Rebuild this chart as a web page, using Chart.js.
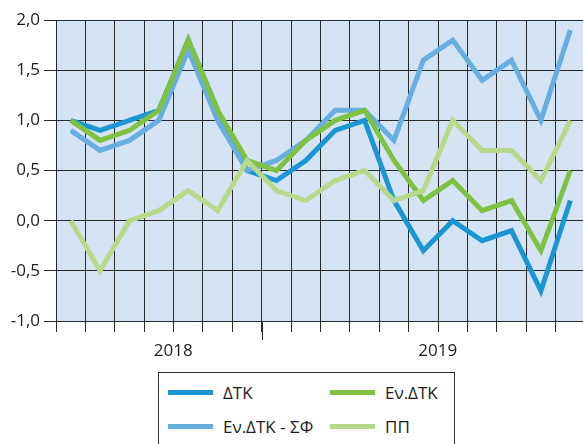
<!DOCTYPE html>
<html>
<head>
<meta charset="utf-8">
<script src="https://cdn.jsdelivr.net/npm/chart.js@4.4.1/dist/chart.umd.min.js"></script>
<style>
  html, body { margin: 0; padding: 0; background: #fff; overflow: hidden; }
  #wrap { position: relative; width: 583px; height: 444px; overflow: hidden; }
  #chart { position: absolute; left: 0; top: 0; }
  #legend {
    position: absolute; left: 158px; top: 372px; width: 297px; height: 90px;
    border: 1px solid #333; box-sizing: border-box; background: #fff;
    font-family: "Open Sans", sans-serif; font-size: 17px; color: #1e1e1e;
  }
  .item { position: absolute; height: 20px; display: flex; align-items: center; white-space: nowrap; }
  .swatch { width: 45px; height: 5px; margin-right: 10px; }
</style>
</head>
<body>
<div id="wrap">
  <canvas id="chart" width="585" height="444"></canvas>
  <div id="legend"></div>
</div>
<script>
// months Jun 2018 - Nov 2019
const months = [
  "2018-06", "2018-07", "2018-08", "2018-09", "2018-10", "2018-11", "2018-12",
  "2019-01", "2019-02", "2019-03", "2019-04", "2019-05", "2019-06", "2019-07",
  "2019-08", "2019-09", "2019-10", "2019-11",
];
const yearTicks = ["", "", "", "", "2018", "", "", "", "", "", "", "", "", "2019", "", "", "", ""];

const dtk = [1.0, 0.9, 1.0, 1.1, 1.8, 1.1, 0.5, 0.4, 0.6, 0.9, 1.0, 0.2, -0.3, 0.0, -0.2, -0.1, -0.7, 0.2];
const enDtk = [1.0, 0.8, 0.9, 1.1, 1.8, 1.1, 0.6, 0.5, 0.8, 1.0, 1.1, 0.6, 0.2, 0.4, 0.1, 0.2, -0.3, 0.5];
const enDtkSf = [0.9, 0.7, 0.8, 1.0, 1.7, 1.0, 0.5, 0.6, 0.8, 1.1, 1.1, 0.8, 1.6, 1.8, 1.4, 1.6, 1.0, 1.9];
const pp = [0.0, -0.5, 0.0, 0.1, 0.3, 0.1, 0.6, 0.3, 0.2, 0.4, 0.5, 0.2, 0.3, 1.0, 0.7, 0.7, 0.4, 1.0];

const gridColor = "#2a2a2a";
const font = { family: "'Open Sans', sans-serif", size: 17 };

// fill plot area + longer tick at the year boundary
const chartDecor = {
  id: "chartDecor",
  beforeDraw: (chart) => {
    const { ctx, chartArea: a } = chart;
    ctx.save();
    ctx.fillStyle = "#d4e4f5";
    ctx.fillRect(a.left, a.top, a.right - a.left, a.bottom - a.top);
    ctx.restore();
  },
  afterDraw: (chart) => {
    const { ctx, chartArea: a, scales } = chart;
    const i = months.indexOf("2019-01");
    const x = Math.round((scales.x.getPixelForValue(i - 1) + scales.x.getPixelForValue(i)) / 2) + 0.5;
    ctx.save();
    ctx.strokeStyle = gridColor;
    ctx.lineWidth = 1;
    ctx.beginPath();
    ctx.moveTo(x, a.bottom);
    ctx.lineTo(x, a.bottom + 19);
    ctx.stroke();
    ctx.restore();
  },
};

const line = (label, values, color, order) => ({
  label,
  data: values,
  borderColor: color,
  backgroundColor: color,
  borderWidth: 5,
  pointRadius: 0,
  tension: 0,
  fill: false,
  order,
});

const datasets = [
  line("ΔΤΚ", dtk, "#1b96d3", 3),
  line("Εν.ΔΤΚ", enDtk, "#7fc242", 1),
  line("Εν.ΔΤΚ - ΣΦ", enDtkSf, "#69aee0", 2),
  line("ΠΠ", pp, "#b6da8b", 0),
];

const chart = new Chart(document.getElementById("chart"), {
  type: "line",
  data: { labels: months, datasets },
  options: {
    responsive: false,
    animation: false,
    devicePixelRatio: 1,
    layout: { padding: { top: 20, right: 0, bottom: 0, left: 0 } },
    plugins: { legend: { display: false }, tooltip: { enabled: false } },
    scales: {
      x: {
        type: "category",
        offset: true,
        afterFit: (s) => { s.height = 123; },
        grid: { offset: true, color: gridColor, tickColor: gridColor, tickLength: 11, lineWidth: 1 },
        border: { color: gridColor },
        ticks: {
          autoSkip: false,
          maxRotation: 0,
          labelOffset: -15,
          padding: 9,
          color: "#1e1e1e",
          font,
          callback: (v, i) => yearTicks[i],
        },
      },
      y: {
        min: -1,
        max: 2,
        afterFit: (s) => { s.width = 56; },
        grid: { color: gridColor, tickColor: gridColor, tickLength: 12, lineWidth: 1 },
        border: { color: gridColor },
        ticks: {
          stepSize: 0.5,
          padding: 4,
          color: "#1e1e1e",
          font,
          callback: (v) => v.toFixed(1).replace(".", ","),
        },
      },
    },
  },
  plugins: [chartDecor],
});

// html legend, two columns like the original
const legendOrder = ["ΔΤΚ", "Εν.ΔΤΚ", "Εν.ΔΤΚ - ΣΦ", "ΠΠ"];
const legendEl = document.getElementById("legend");
legendOrder.forEach((name, k) => {
  const ds = chart.data.datasets.find((d) => d.label === name);
  const item = document.createElement("div");
  item.className = "item";
  item.style.left = (k % 2 === 0 ? 9 : 171) + "px";
  item.style.top = (k < 2 ? 9 : 43) + "px";
  const sw = document.createElement("span");
  sw.className = "swatch";
  sw.style.background = ds.borderColor;
  const txt = document.createElement("span");
  txt.textContent = ds.label;
  item.appendChild(sw);
  item.appendChild(txt);
  legendEl.appendChild(item);
});
</script>
</body>
</html>
